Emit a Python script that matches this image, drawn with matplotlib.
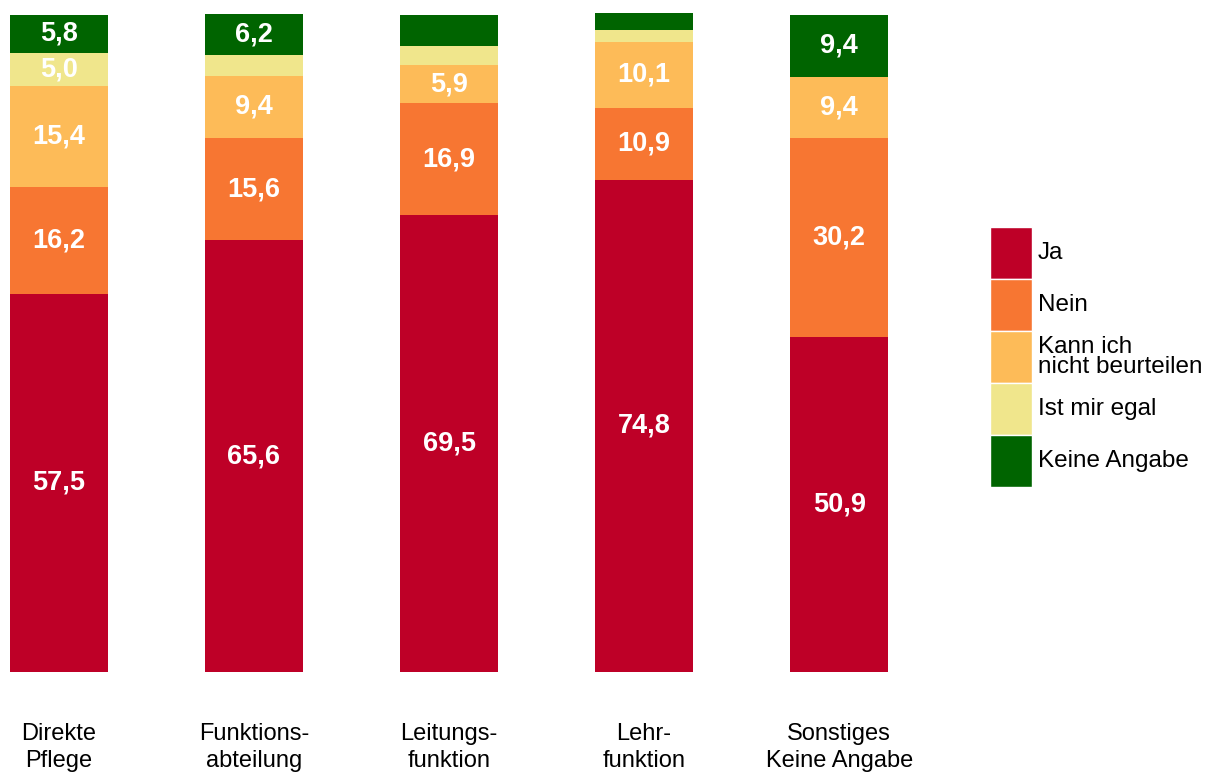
import numpy as np
import matplotlib
matplotlib.use("Agg")
import matplotlib.pyplot as plt
from matplotlib.patches import Rectangle

plt.rcParams['font.family'] = ['Liberation Sans', 'DejaVu Sans']

# Daten (Prozent)
kategorien = ["Direkte\nPflege", "Funktions-\nabteilung", "Leitungs-\nfunktion",
              "Lehr-\nfunktion", "Sonstiges\nKeine Angabe"]
antworten = ["Ja", "Nein", "Kann ich\nnicht beurteilen", "Ist mir egal", "Keine Angabe"]
ja = [57.5, 65.6, 69.5, 74.8, 50.9]
nein = [16.2, 15.6, 16.9, 10.9, 30.2]
kann_nicht = [15.4, 9.4, 5.9, 10.1, 9.4]
egal = [5.0, 3.2, 2.9, 1.8, 0.0]
keine_angabe = [5.8, 6.2, 4.7, 2.5, 9.4]
farben = ["#BE0027", "#F77632", "#FDBB58", "#F0E68C", "#006400"]

werte = [ja, nein, kann_nicht, egal, keine_angabe]

fig = plt.figure(figsize=(12.12, 7.72), dpi=100)
ax = fig.add_axes([10 / 1212, 1 - 672 / 772, 878 / 1212, 658 / 772])

x = np.arange(len(kategorien))
unten = np.zeros(len(kategorien))
for serie, farbe in zip(werte, farben):
    serie = np.array(serie)
    ax.bar(x, serie, width=0.5, bottom=unten, color=farbe, clip_on=False)
    for xi, b, v in zip(x, unten, serie):
        if v >= 5:
            ax.text(xi, b + v / 2, f"{v:.1f}".replace(".", ","), ha="center", va="center",
                    color="white", fontsize=19.5, fontweight="bold")
    unten += serie

ax.set_xlim(-0.25, 4.25)
ax.set_ylim(0, 100)
ax.set_xticks(x)
ax.set_xticklabels(kategorien, fontsize=17, linespacing=1.28)
ax.tick_params(axis="x", length=0, pad=37)
ax.set_yticks([])
for s in ax.spines.values():
    s.set_visible(False)

# Legende von Hand (Kästchen direkt untereinander)
lax = fig.add_axes([990 / 1212, 1 - 487 / 772, 222 / 1212, 260 / 772])
lax.set_xlim(0, 222)
lax.set_ylim(len(antworten), 0)
lax.axis("off")
for i, (name, farbe) in enumerate(zip(antworten, farben)):
    lax.add_patch(Rectangle((0, i), 42, 1, facecolor=farbe, edgecolor="white", linewidth=1))
    lax.text(48, i + 0.5, name, va="center", ha="left", fontsize=17.5, linespacing=0.9)

fig.savefig("out.png", dpi=100)
